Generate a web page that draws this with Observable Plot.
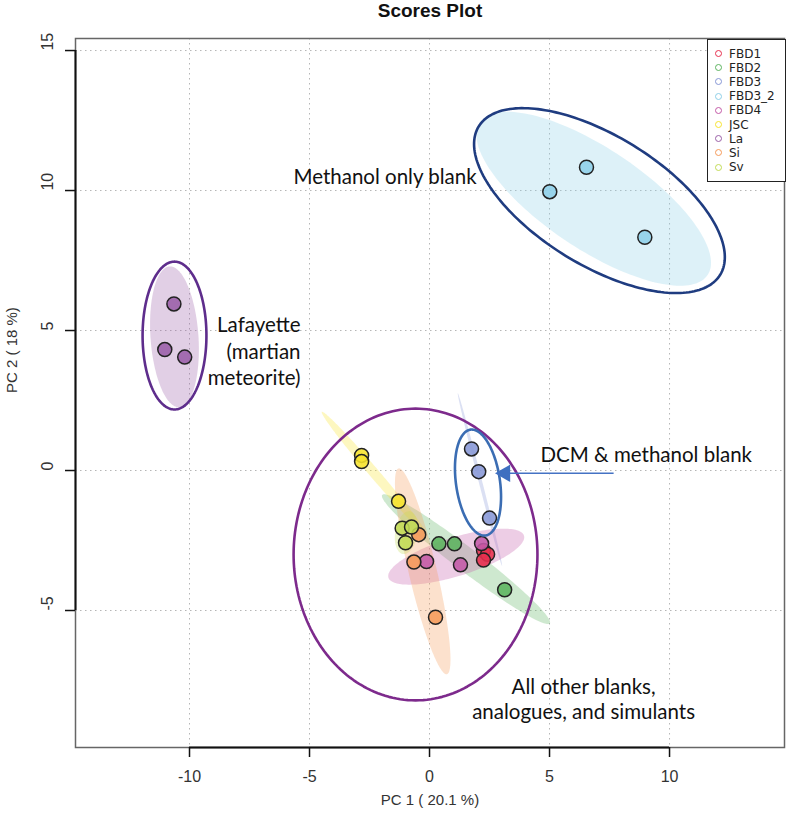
<!DOCTYPE html>
<html><head><meta charset="utf-8">
<script src="https://cdn.jsdelivr.net/npm/d3@7"></script>
<script src="https://cdn.jsdelivr.net/npm/@observablehq/plot@0.6"></script>
<style>
body{margin:0;background:#fff;font-family:"Liberation Sans",Arial,sans-serif;}
#wrap{position:relative;width:788px;height:828px;overflow:hidden;}
#chart{position:absolute;left:0;top:0;}
#title{position:absolute;left:280px;top:0px;width:300px;text-align:center;font-weight:bold;font-size:19px;line-height:22px;color:#111;}
#legend{position:absolute;left:707px;top:39px;width:77px;height:141px;border:1.5px solid #222;background:#fff;}
.li{position:absolute;left:0;height:14px;font-size:12px;line-height:14px;color:#222;font-family:"DejaVu Sans",sans-serif;}
.li span.c{position:absolute;left:7px;top:3.5px;width:5px;height:5px;border-radius:50%;border:1.8px solid;}
.li span.t{position:absolute;left:21px;top:0;white-space:nowrap;}
</style></head><body>
<div id="wrap"><div id="chart"></div><div id="title">Scores Plot</div><div id="legend"></div></div>
<script>
// ---- data ----
const groups = ["FBD1","FBD2","FBD3","FBD3_2","FBD4","JSC","La","Si","Sv"];
const groupColors = ["#e8304f","#5cb45f","#8797d6","#8ecfe8","#c45aa8","#f7e42e","#9a5fa8","#f59a5a","#c2db55"];
const sampleGroup = [
  "FBD1","FBD1","FBD1",
  "FBD2","FBD2","FBD2",
  "FBD3","FBD3","FBD3",
  "FBD3_2","FBD3_2","FBD3_2",
  "FBD4","FBD4","FBD4",
  "JSC","JSC","JSC",
  "La","La","La",
  "Si","Si","Si",
  "Sv","Sv","Sv"];
const pc1 = [2.25,2.42,2.25, 0.39,1.04,3.13, 1.75,2.05,2.5, 5.01,6.54,8.97, -0.125,1.29,2.17, -2.83,-2.83,-1.29, -10.65,-11.03,-10.2, -0.45,-0.65,0.25, -1.14,-0.75,-1.0];
const pc2 = [-2.86,-2.99,-3.2, -2.62,-2.62,-4.26, 0.77,-0.04,-1.7, 9.96,10.83,8.33, -3.25,-3.37,-2.61, 0.54,0.32,-1.1, 5.95,4.32,4.05, -2.29,-3.27,-5.24, -2.06,-2.02,-2.58];
const xTicks = [-10,-5,0,5,10];
const yTicks = [-5,0,5,10,15];
const xDomain = [-14.75, 14.79];
const yDomain = [-9.893, 15.43];
const xLabel = "PC 1 ( 20.1 %)";
const yLabel = "PC 2 ( 18 %)";

// annotation outlines: centre + two semi-axis vectors (data units)
const annoEllipseName = ["methanol","lafayette","others","dcm"];
const annoEllipseCentre = [[7.08,9.64],[-10.625,4.82],[-0.583,-3.0],[2.02,-0.43]];
const annoEllipseU = [[5.03,-2.65],[1.33,0],[5.08,0],[0.3125,-1.89]];
const annoEllipseV = [[-1.41,-1.97],[0,2.64],[0,5.21],[-0.908,-0.11]];
const annoEllipseColor = ["#1f3c80","#5e2d8c","#7d2a8c","#3b6db3"];

const annoText = ["Methanol only blank","Lafayette","(martian","meteorite)","DCM & methanol blank","All other blanks,","analogues, and simulants"];
const annoX = [-5.67,-5.375,-5.375,-5.375,4.625,6.42,6.42];
const annoY = [10.46,5.18,4.22,3.29,0.54,-7.75,-8.64];
const annoAnchor = ["start","end","end","end","start","middle","middle"];

const arrowFrom = [7.67,-0.1];
const arrowTo = [3.15,-0.1];

// ---- derived ----
const points = pc1.map((x,i)=>({x, y: pc2[i], group: sampleGroup[i]}));

function confEllipse(pts, n=160){
  const mx = d3.mean(pts,p=>p.x), my = d3.mean(pts,p=>p.y);
  let sxx=0,syy=0,sxy=0;
  for (const p of pts){const dx=p.x-mx, dy=p.y-my; sxx+=dx*dx; syy+=dy*dy; sxy+=dx*dy;}
  const m = pts.length-1; sxx/=m; syy/=m; sxy/=m;
  const t = Math.sqrt(5.991464547);
  const l11 = Math.sqrt(sxx), l21 = sxy/l11, l22 = Math.sqrt(Math.max(syy - l21*l21, 1e-9));
  const out=[];
  for (let k=0;k<=n;k++){const a=2*Math.PI*k/n, c=Math.cos(a), s=Math.sin(a);
    out.push({x: mx + t*l11*c, y: my + t*(l21*c + l22*s)});}
  return out;
}
const fillEllipses = [];
for (const g of groups){
  const pts = points.filter(p=>p.group===g);
  for (const q of confEllipse(pts)) fillEllipses.push({...q, group:g});
}
const annoEllipses = [];
annoEllipseName.forEach((nm,i)=>{
  const [cx,cy]=annoEllipseCentre[i], [ux,uy]=annoEllipseU[i], [vx,vy]=annoEllipseV[i];
  for (let k=0;k<=200;k++){const a=2*Math.PI*k/200, c=Math.cos(a), s=Math.sin(a);
    annoEllipses.push({x: cx+ux*c+vx*s, y: cy+uy*c+vy*s, name: nm, color: annoEllipseColor[i]});}
});
const texts = annoText.map((t,i)=>({text:t, x:annoX[i], y:annoY[i], anchor:annoAnchor[i]}));

const annoFont = "Lato, 'Open Sans', sans-serif";
const annoTextMark = (anchor) => Plot.text(texts.filter(d=>d.anchor===anchor),
  {x: "x", y: "y", text: "text", textAnchor: anchor, fontSize: 20.5, fontFamily: annoFont, fill: "#111"});

const chart = Plot.plot({
  width: 788, height: 828,
  marginTop: 38, marginBottom: 81, marginLeft: 75, marginRight: 4,
  style: {fontFamily: "'Liberation Sans', Arial, sans-serif", background: "#fff"},
  x: {domain: xDomain, axis: null},
  y: {domain: yDomain, axis: null},
  color: {domain: groups, range: groupColors},
  marks: [
    Plot.gridX(xTicks, {stroke: "#b5b5b5", strokeOpacity: 1, strokeDasharray: "1.5,3.5"}),
    Plot.gridY(yTicks, {stroke: "#b5b5b5", strokeOpacity: 1, strokeDasharray: "1.5,3.5"}),
    Plot.frame({stroke: "#666", strokeWidth: 1.5}),
    Plot.ruleY([yDomain[0]], {x1: xTicks[0], x2: xTicks[xTicks.length-1], stroke: "#111", strokeWidth: 2}),
    Plot.ruleX([xDomain[0]], {y1: yTicks[0], y2: yTicks[yTicks.length-1], stroke: "#111", strokeWidth: 2}),
    Plot.axisX(xTicks, {label: null, tickSize: 10, tickPadding: 13, fontSize: 16, tickFormat: d=>String(d), stroke: "#111", strokeWidth: 1.5, fill: "#333"}),
    Plot.axisY(yTicks, {label: null, tickSize: 10, tickFormat: ()=>"", stroke: "#111", strokeWidth: 1.5}),
    Plot.text(yTicks, {y: d=>d, text: d=>String(d), frameAnchor: "left", dx: -28, rotate: -90, fontSize: 16, fill: "#333"}),
    Plot.text([xLabel], {frameAnchor: "bottom", dy: 57, fontSize: 15, fill: "#333"}),
    Plot.text([yLabel], {frameAnchor: "left", dx: -63, rotate: -90, fontSize: 15, fill: "#333"}),
    Plot.line(fillEllipses, {x: "x", y: "y", z: "group", fill: "group", fillOpacity: 0.3, stroke: "none", curve: "linear-closed"}),
    Plot.dot(points, {x: "x", y: "y", r: 7, fill: "group", fillOpacity: 0.88, stroke: "#222", strokeWidth: 1.5}),
    Plot.line(annoEllipses, {x: "x", y: "y", z: "name", stroke: "color", strokeWidth: 2.6, curve: "linear-closed"}),
    Plot.link([{}], {x1: arrowFrom[0], y1: arrowFrom[1], x2: arrowTo[0], y2: arrowTo[1], stroke: "#4472c4", strokeWidth: 1.5}),
    Plot.dot([{}], {x: arrowTo[0], y: arrowTo[1], symbol: "triangle", r: 6.5, rotate: -90, fill: "#3e6fc0", stroke: "none"}),
    annoTextMark("start"),
    annoTextMark("end"),
    annoTextMark("middle")
  ]
});
document.getElementById("chart").appendChild(chart);

// legend
const leg = document.getElementById("legend");
groups.forEach((g,i)=>{
  const d = document.createElement("div");
  d.className="li"; d.style.top = (6.5 + 14.2*i) + "px";
  d.innerHTML = `<span class="c" style="border-color:${groupColors[i]}"></span><span class="t">${g}</span>`;
  leg.appendChild(d);
});
</script>
</body></html>
